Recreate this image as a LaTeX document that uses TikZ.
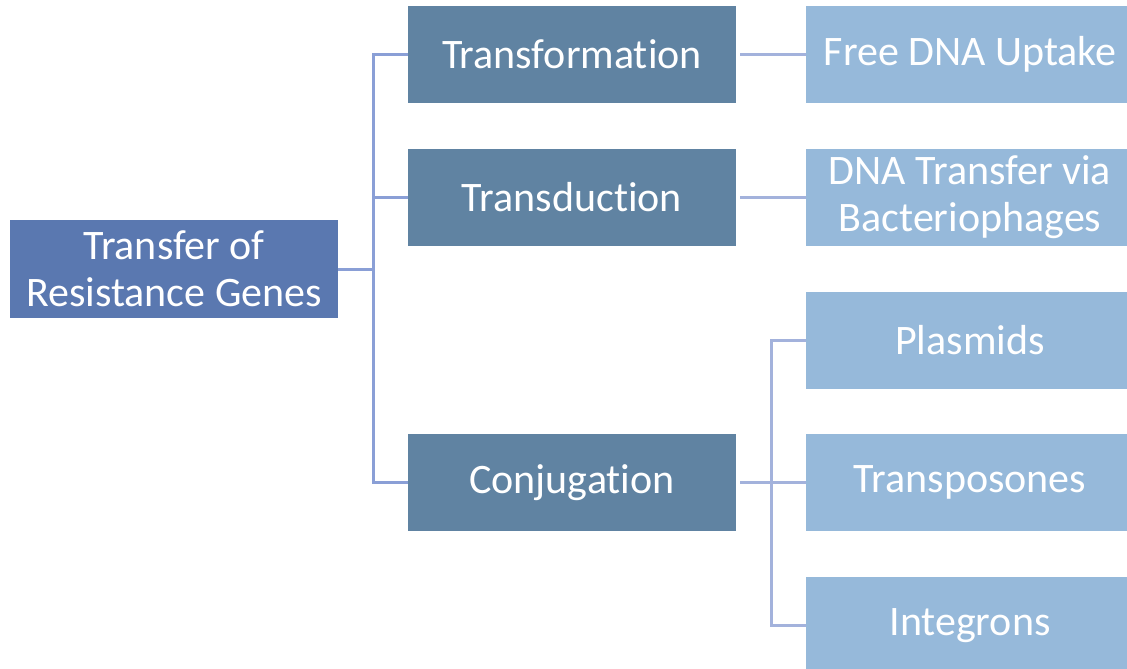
\documentclass[tikz,border=0pt]{standalone}
\usepackage{fontspec}
\setmainfont{Carlito}[Ligatures=NoCommon]
\definecolor{rootc}{HTML}{5A78B0}
\definecolor{midc}{HTML}{6083A2}
\definecolor{leafc}{HTML}{96B9DA}
\definecolor{lineA}{HTML}{8A9FD6}
\definecolor{lineB}{HTML}{A3B2DC}
\begin{document}
\begin{tikzpicture}[x=1pt,y=-1pt,
  box/.style={rectangle,inner sep=0pt,minimum width=328pt,text=white,align=center,
    font=\fontsize{42}{47}\selectfont},
  rootbox/.style={box,fill=rootc,minimum height=98pt},
  midbox/.style={box,fill=midc,minimum height=97pt},
  leafbox/.style={box,fill=leafc,minimum height=97pt},
  linkA/.style={draw=lineA,line width=3pt},
  linkB/.style={draw=lineB,line width=3pt}]
\useasboundingbox (0,0) rectangle (1127,669);
\clip (0,0) rectangle (1127,669);
\node[rootbox] (root) at (174,269) {Transfer of\\Resistance Genes};
\node[midbox] (tf) at (572,54.5) {Transformation};
\node[midbox] (td) at (572,197.5) {Transduction};
\node[midbox] (cj) at (572,482.5) {Conjugation};
\node[leafbox] (fd) at (970,54.5) {Free DNA Uptake};
\node[leafbox] (dt) at (970,197.5) {DNA Transfer via\\Bacteriophages};
\node[leafbox] (pl) at (970,340) {Plasmids};
\node[leafbox] (tp) at (970,482.5) {Transposones};
\node[leafbox] (ig) at (970,625.5) {Integrons};
\coordinate (j1) at (373,269);
\coordinate (j2) at (771,482.5);
\draw[linkA] (root.east) -- (j1);
\draw[linkA] (j1) |- (tf.west);
\draw[linkA] (j1) |- (td.west);
\draw[linkA] (j1) |- (cj.west);
\draw[linkB,shorten <=4pt] (tf.east) -- (fd.west);
\draw[linkB,shorten <=4pt] (td.east) -- (dt.west);
\draw[linkB,shorten <=4pt] (cj.east) -- (j2);
\draw[linkB] (j2) |- (pl.west);
\draw[linkB] (j2) -- (tp.west);
\draw[linkB] (j2) |- (ig.west);
\end{tikzpicture}
\end{document}
